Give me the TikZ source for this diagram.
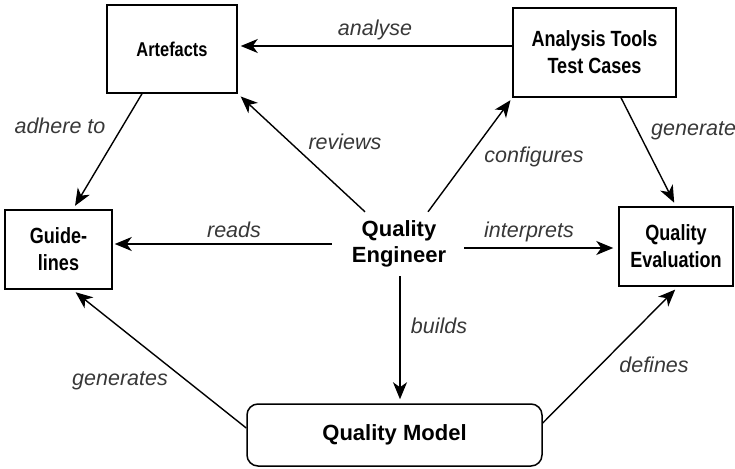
\documentclass[tikz,border=0pt]{standalone}
\usepackage{fontspec}
\setmainfont{Liberation Sans}
\newfontfamily\condfont[FakeStretch=0.82]{Liberation Sans}
\usetikzlibrary{arrows.meta}

\tikzset{
  box/.style={draw, line width=1.5pt, inner sep=0pt, align=center,
    font=\condfont\bfseries\fontsize{22}{27}\selectfont},
  modelbox/.style={draw, line width=1.5pt, inner sep=0pt, rounded corners=11pt,
    font=\bfseries\fontsize{22}{26}\selectfont},
  actor/.style={inner sep=0pt, align=center, minimum width=130pt, minimum height=64pt,
    font=\bfseries\fontsize{22}{26}\selectfont},
  arr/.style={line width=1.4pt, shorten >=4pt,
    -{Stealth[length=17pt,width=14pt,inset=5pt]}},
  lbl/.style={anchor=base, inner sep=0pt, text=black!78,
    font=\itshape\fontsize{21.5}{24}\selectfont}
}

\begin{document}
\begin{tikzpicture}[x=1pt,y=-1pt]
  \useasboundingbox (0,0) rectangle (735,468);

  % boxes
  \node[box, minimum width=130pt, minimum height=88pt,
        font=\condfont\bfseries\fontsize{20}{24}\selectfont] (art) at (172,49) {Artefacts};
  \node[box, minimum width=163pt, minimum height=89pt] (atc) at (594.5,52.5) {Analysis Tools\\Test Cases};
  \node[box, minimum width=107pt, minimum height=79pt] (gl) at (58.5,249.5) {Guide-\\lines};
  \node[box, minimum width=114pt, minimum height=79pt] (qev) at (676,246.5) {Quality\\Evaluation};
  \node[modelbox, minimum width=295pt, minimum height=62pt] (qm) at (394.5,435) {Quality Model};
  \node[actor] (eng) at (399,244) {Quality\\Engineer};

  % connectors
  \draw[arr, shorten >=3pt] ([yshift=6.5pt]atc.west) -- ([yshift=6.5pt]atc.west -| art.east);
  \draw[arr] ([xshift=-30pt]art.south) -- ([xshift=14.5pt]gl.north);
  \draw[arr] ([xshift=-34pt]eng.north) -- (art.south east);
  \draw[arr, shorten >=3pt] ([xshift=29pt]eng.north) -- (atc.south west);
  \draw[arr] ([xshift=26.5pt]atc.south) -- (qev.north);
  \draw[arr] ([xshift=-2pt]eng.west) -- ([xshift=-2pt]eng.west -| gl.east);
  \draw[arr, shorten >=5pt] ([yshift=-4pt]eng.east) -- ([yshift=-4pt]eng.east -| qev.west);
  \draw[arr] ([xshift=1pt]eng.south) -- ([xshift=1pt]eng.south |- qm.north);
  \draw[arr] ([yshift=7pt]qm.west) -- ([xshift=14pt]gl.south);
  \draw[arr] ([yshift=12pt]qm.east) -- ([xshift=2pt]qev.south);

  % connector labels
  \node[lbl] (l-analyse) at (375,36) {analyse};
  \node[lbl] (l-adhere) at (60,133) {adhere to};
  \node[lbl] (l-reviews) at (345,149) {reviews};
  \node[lbl] (l-config) at (534,162) {configures};
  \node[lbl, anchor=base west] (l-generate) at (651,135) {generate};
  \node[lbl] (l-reads) at (234,237) {reads};
  \node[lbl] (l-interp) at (529,237) {interprets};
  \node[lbl] (l-builds) at (439,333) {builds};
  \node[lbl] (l-generates) at (120,385) {generates};
  \node[lbl] (l-defines) at (654,372) {defines};
\end{tikzpicture}
\end{document}
